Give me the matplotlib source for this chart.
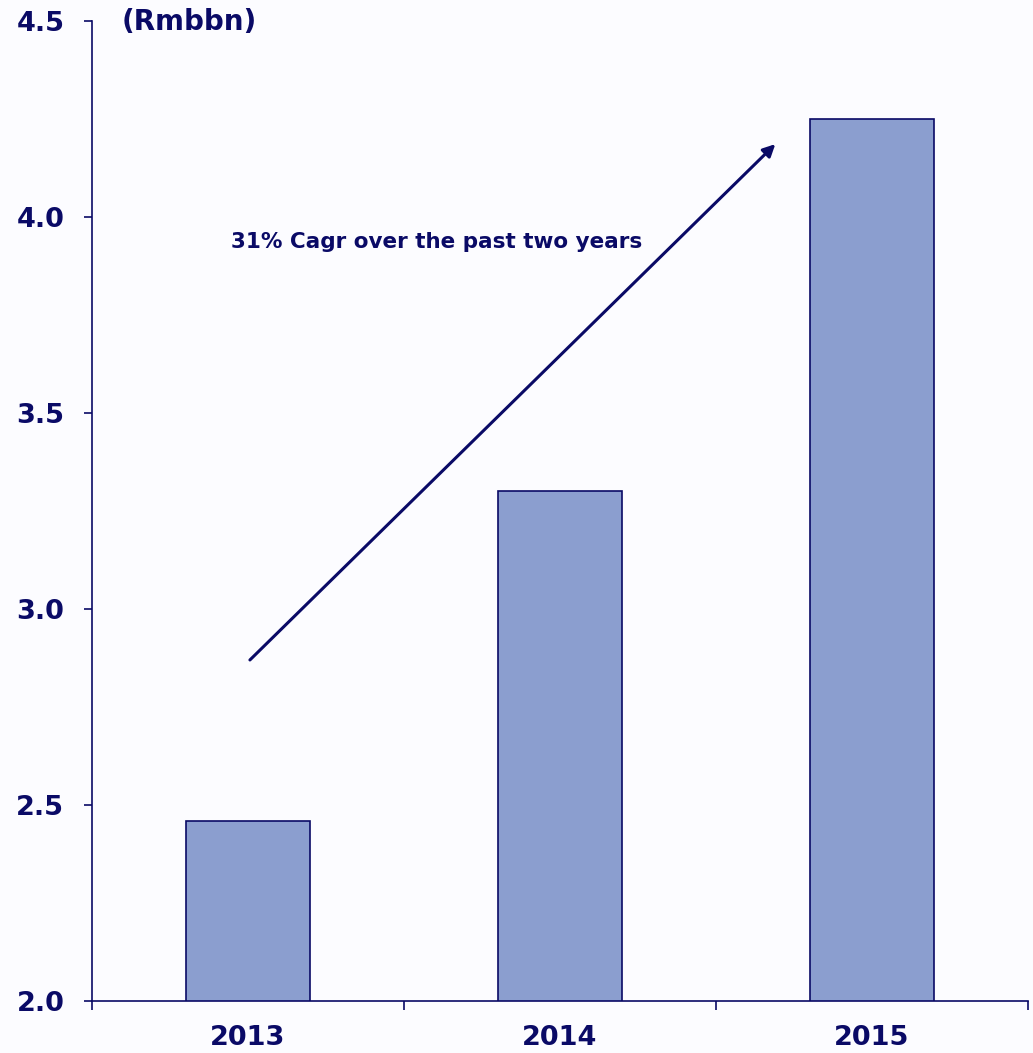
import numpy as np
import matplotlib.pyplot as plt

years = ['2013', '2014', '2015']
revenue = [2.46, 3.30, 4.25]
yticks = [2.0, 2.5, 3.0, 3.5, 4.0, 4.5]

navy = '#0a0a66'
bar_colour = '#8b9ecf'

plt.rcParams['font.family'] = 'DejaVu Sans'
plt.rcParams['font.weight'] = 'bold'

fig = plt.figure(figsize=(10.33, 10.53), dpi=100, facecolor='#fcfcff')
ax = fig.add_axes([0.0891, 0.0494, 0.9061, 0.9306])
ax.set_facecolor('#fcfcff')

x = np.arange(len(years))
ax.bar(x, revenue, width=0.4, bottom=0, color=bar_colour, edgecolor=navy, linewidth=1.2)

ax.set_ylim(2.0, 4.5)
ax.set_xlim(-0.5, 2.5)
ax.set_yticks(yticks)
ax.set_yticklabels(['%.1f' % v for v in yticks])
ax.set_xticks(x)
ax.set_xticklabels(years)
ax.set_xticks([-0.5, 0.5, 1.5, 2.5], minor=True)

ax.tick_params(axis='y', length=6, width=1.2, color=navy, labelcolor=navy,
               labelsize=19.5, pad=14)
ax.tick_params(axis='x', which='major', length=0, labelcolor=navy,
               labelsize=19.5, pad=17)
ax.tick_params(axis='x', which='minor', length=6.5, width=1.2, color=navy)
for lab in ax.get_xticklabels() + ax.get_yticklabels():
    lab.set_fontweight('bold')

for side in ['top', 'right']:
    ax.spines[side].set_visible(False)
for side in ['left', 'bottom']:
    ax.spines[side].set_color(navy)
    ax.spines[side].set_linewidth(1.2)

ax.text(0.032, 0.999, '(Rmbbn)', transform=ax.transAxes, ha='left', va='center',
        fontsize=20, fontweight='bold', color=navy)

ax.annotate('', xy=(1.69, 4.186), xytext=(0.006, 2.87),
            arrowprops=dict(arrowstyle='-|>', color=navy, lw=2.2,
                            mutation_scale=18, shrinkA=0, shrinkB=0))
ax.text(0.606, 3.936, '31% Cagr over the past two years', ha='center', va='center',
        fontsize=15.5, fontweight='bold', color=navy)

fig.savefig('out.png', dpi=100, facecolor=fig.get_facecolor())
